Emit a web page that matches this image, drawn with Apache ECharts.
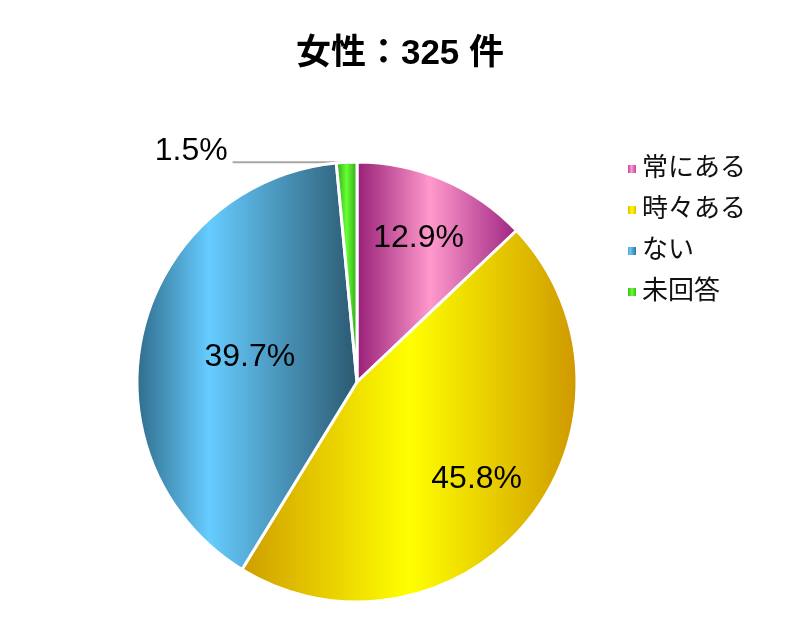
<!DOCTYPE html>
<html>
<head>
<meta charset="utf-8">
<title>女性：325 件</title>
<script src="https://cdn.jsdelivr.net/npm/echarts@6/dist/echarts.min.js"></script>
<style>html,body{margin:0;padding:0;background:#fff;}</style>
</head>
<body>
<div id="main" style="width:800px;height:626px;"></div>
<script>
var titleText = '女性：325 件';
var categories = ['常にある', '時々ある', 'ない', '未回答'];
var values = [12.9, 45.8, 39.7, 1.5];

// 横方向のグラデーション（左端・明るい所・右端）
var sliceColors = [
    ['#961d76', '#ff99cc', '#9c2480'],
    ['#cf9c00', '#ffff00', '#cf9800'],
    ['#2f6b8a', '#66ccff', '#2b5870'],
    ['#2a9918', '#66ff33', '#2a9918']
];
var lightStops = [0.46, 0.5, 0.33, 0.5];
var labelRadius = [0.71, 0.70, 0.5, 1];

var CX = 357, CY = 382, R = 220;
var fontLatin = "'Liberation Sans', 'Noto Sans CJK JP', sans-serif";

// 各スライスの中央の角度（12時から時計回り）
var total = 0;
values.forEach(function (v) { total += v; });
var midAngles = [];
var acc = 0;
values.forEach(function (v) {
    midAngles.push((acc + v / 2) / total * 2 * Math.PI);
    acc += v;
});

var pieData = values.map(function (v, i) {
    var c = sliceColors[i];
    var item = {
        name: categories[i],
        value: v,
        itemStyle: {
            color: new echarts.graphic.LinearGradient(0, 0, 1, 0, [
                { offset: 0, color: c[0] },
                { offset: lightStops[i], color: c[1] },
                { offset: 1, color: c[2] }
            ])
        }
    };
    if (i === 3) {
        item.label = { position: 'outside' };
        item.labelLine = { show: true };
    }
    return item;
});

var myChart = echarts.init(document.getElementById('main'));
var option = {
    animation: false,
    title: {
        text: titleText,
        left: 'center',
        top: 32,
        textStyle: { fontSize: 35, fontWeight: 'bold', color: '#000', fontFamily: fontLatin }
    },
    legend: {
        orient: 'vertical',
        left: 621,
        top: 150,
        icon: 'rect',
        itemWidth: 10,
        itemHeight: 10,
        itemGap: 13,
        selectedMode: false,
        data: categories,
        textStyle: { fontSize: 26, lineHeight: 28, color: '#111', fontFamily: fontLatin }
    },
    series: [{
        type: 'pie',
        center: [CX, CY],
        radius: R,
        startAngle: 90,
        clockwise: true,
        avoidLabelOverlap: false,
        emphasis: { disabled: true },
        itemStyle: { borderColor: '#fff', borderWidth: 3 },
        label: {
            show: true,
            position: 'inside',
            formatter: '{c}%',
            fontSize: 32,
            color: '#000',
            fontFamily: fontLatin
        },
        labelLine: {
            show: false,
            lineStyle: { color: '#a6a6a6', width: 2 }
        },
        labelLayout: function (p) {
            var i = p.dataIndex;
            var a = midAngles[i];
            if (i === 3) {
                var px = CX + R * Math.sin(a);
                var py = CY - R * Math.cos(a);
                var ex = px - 114;
                return {
                    x: ex - 5,
                    y: py + 5,
                    align: 'right',
                    verticalAlign: 'bottom',
                    labelLinePoints: [[px, py], [px, py], [ex, py]]
                };
            }
            var d = labelRadius[i] * R - (R / 2 + 3);
            return { dx: d * Math.sin(a), dy: -d * Math.cos(a) };
        },
        data: pieData
    }]
};
myChart.setOption(option);
</script>
</body>
</html>
